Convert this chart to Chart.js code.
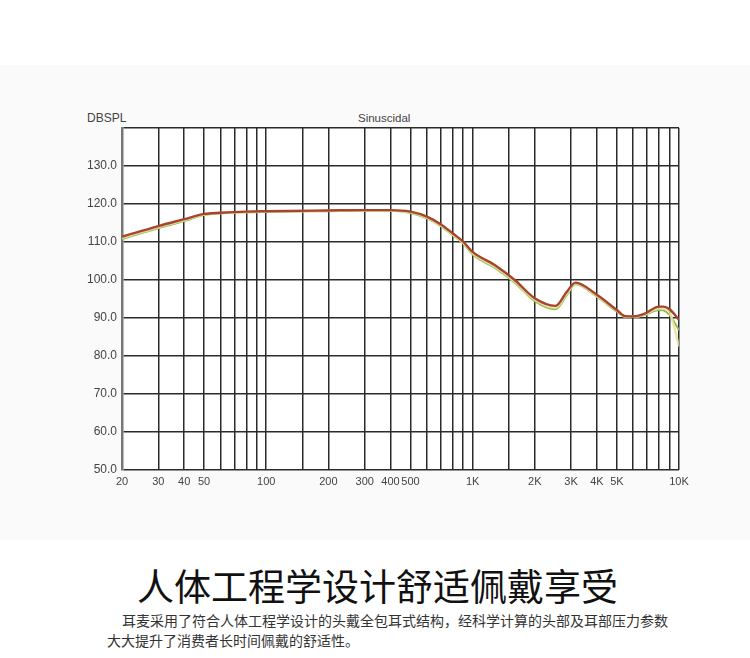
<!DOCTYPE html>
<html>
<head>
<meta charset="utf-8">
<script src="https://cdn.jsdelivr.net/npm/chart.js@4"></script>
<style>
  html, body { margin: 0; padding: 0; background: #fff; }
  body { width: 750px; height: 658px; position: relative; overflow: hidden; font-family: "Liberation Sans", Arial, sans-serif; }
  .panel { position: absolute; left: 0; top: 65px; width: 750px; height: 475px; background: #fafafa; }
  .chart-box { position: absolute; left: 0; top: 100px; width: 700px; height: 400px; }
  .lbl { position: absolute; color: #444; line-height: 14px; }
  .title { position: absolute; left: 137px; top: 564px; font-family: "Noto Sans CJK SC", sans-serif; font-size: 37px; line-height: 42px; color: #111; white-space: nowrap; }
  .desc { position: absolute; left: 107px; top: 610px; font-family: "Noto Sans CJK SC", sans-serif; font-size: 14px; line-height: 20px; color: #333; white-space: nowrap; }
  .desc .indent { padding-left: 15px; }
</style>
</head>
<body>
<div class="panel"></div>
<div class="lbl" style="left:87px; top:111px; font-size:12px;">DBSPL</div>
<div class="lbl" style="left:358px; top:111px; font-size:11.5px;">Sinuscidal</div>
<div class="chart-box"><canvas id="frChart"></canvas></div>
<div class="title">人体工程学设计舒适佩戴享受</div>
<div class="desc"><span class="indent">耳麦采用了符合人体工程学设计的头戴全包耳式结构，经科学计算的头部及耳部压力参数</span><br>大大提升了消费者长时间佩戴的舒适性。</div>

<script>
// --- Data ---
const freqs = [20, 30, 40, 50, 60, 80, 100, 200, 300, 400, 500, 600, 700, 800, 900, 1000,
               1300, 1600, 2000, 2520, 2860, 3150, 4000, 5000, 5470, 6000, 6730, 8000, 8400, 9000, 10000];
const redValues = [111.4, 114.2, 116.0, 117.4, 117.7, 118.0, 118.1, 118.3, 118.4, 118.4, 118.0, 116.7, 114.7, 112.3, 110.1, 107.4,
                   103.7, 100.0, 95.2, 93.2, 96.9, 99.3, 96.1, 92.1, 90.5, 90.4, 91.0, 93.0, 93.0, 92.3, 89.5];
const yellowValues = [111.1, 113.9, 115.7, 117.2, 117.6, 117.9, 118.0, 118.2, 118.3, 118.3, 117.8, 116.4, 114.4, 112.0, 109.8, 107.0,
                      103.3, 99.6, 94.8, 92.7, 96.4, 99.1, 95.8, 91.9, 90.4, 90.3, 90.8, 92.5, 92.5, 91.5, 82.5];
const greenValues = [110.8, 113.6, 115.5, 117.1, 117.5, 117.8, 117.9, 118.1, 118.2, 118.2, 117.6, 116.2, 114.2, 111.8, 109.6, 106.7,
                     103.0, 99.3, 94.4, 92.3, 96.0, 98.9, 95.6, 91.7, 90.3, 90.3, 90.7, 92.1, 92.0, 90.8, 86.8];
const xTickLabels = { 20: '20', 30: '30', 40: '40', 50: '50', 100: '100', 200: '200', 300: '300', 400: '400', 500: '500',
                      1000: '1K', 2000: '2K', 3000: '3K', 4000: '4K', 5000: '5K', 10000: '10K' };
const yMin = 50, yMax = 140, yStep = 10;

const toPoints = vals => freqs.map((f, i) => ({ x: f, y: vals[i] }));

// white plot area on top of the grey panel
const plotBg = {
    id: 'plotBg',
    beforeDraw(chart) {
        const { ctx, chartArea: a } = chart;
        ctx.save();
        ctx.fillStyle = '#ffffff';
        ctx.fillRect(a.left, a.top, a.right - a.left, a.bottom - a.top);
        ctx.restore();
    }
};

const lineStyle = { pointRadius: 0, fill: false, cubicInterpolationMode: 'monotone' };

new Chart(document.getElementById('frChart'), {
    type: 'line',
    data: {
        datasets: [
            { label: 'L', data: toPoints(redValues), borderColor: '#a8442e', borderWidth: 2.4, order: 1, ...lineStyle },
            { label: 'M', data: toPoints(yellowValues), borderColor: 'rgba(234,224,160,0.85)', borderWidth: 2.5, order: 2, ...lineStyle },
            { label: 'R', data: toPoints(greenValues), borderColor: '#8cbd52', borderWidth: 2, order: 3, ...lineStyle }
        ]
    },
    options: {
        responsive: true,
        maintainAspectRatio: false,
        animation: false,
        layout: { padding: { top: 28, right: 21, left: 0, bottom: 0 } },
        plugins: {
            legend: { display: false },
            tooltip: { enabled: false }
        },
        scales: {
            x: {
                type: 'logarithmic',
                min: freqs[0],
                max: freqs[freqs.length - 1],
                afterFit: s => { s.height = 30; },
                grid: { color: '#2b2b2b', lineWidth: 1.5, drawTicks: false },
                border: { display: false },
                ticks: {
                    autoSkip: false,
                    maxRotation: 0,
                    padding: 5,
                    color: '#444',
                    font: { family: "'Liberation Sans', Arial, sans-serif", size: 11 },
                    callback: v => xTickLabels[Math.round(v)] || ''
                }
            },
            y: {
                min: yMin,
                max: yMax,
                afterFit: s => { s.width = 122; },
                grid: { color: '#2b2b2b', lineWidth: 1.5, drawTicks: false },
                border: { color: '#777', width: 2.5 },
                ticks: {
                    stepSize: yStep,
                    padding: 5,
                    color: '#444',
                    font: { family: "'Liberation Sans', Arial, sans-serif", size: 12 },
                    callback: v => v === yMax ? '' : v.toFixed(1)
                }
            }
        }
    },
    plugins: [plotBg]
});
</script>
</body>
</html>
